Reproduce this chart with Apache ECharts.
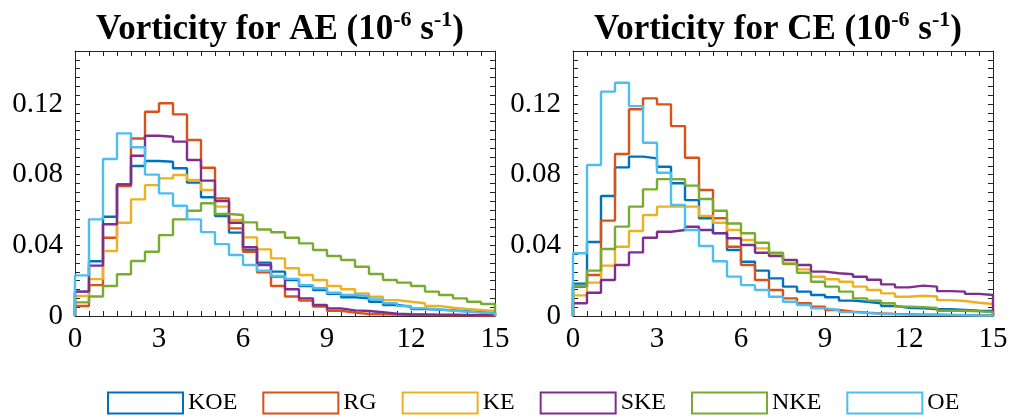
<!DOCTYPE html>
<html>
<head>
<meta charset="utf-8">
<title>Vorticity distributions</title>
<script src="https://cdn.jsdelivr.net/npm/echarts@6/dist/echarts.min.js"></script>
<style>
  html, body { margin: 0; padding: 0; background: #ffffff; }
  #chart { width: 1011px; height: 419px; }
</style>
</head>
<body>
<div id="chart"></div>
<script>
// Histogram bins: 30 bins of width 0.5 from 0 to 15 (10^-6 s^-1)
const BIN_WIDTH = 0.5;
const X_MAX = 15;
const Y_MAX = 0.15;

const seriesNames = ['KOE', 'RG', 'KE', 'SKE', 'NKE', 'OE'];
const seriesColors = ['#0072BD', '#D95319', '#EDB120', '#7E2F8E', '#77AC30', '#4DBEEE'];

// Anticyclonic eddies (AE): probability per bin
const aeKOE = [0.0138, 0.0310, 0.0562, 0.0745, 0.0849, 0.0877, 0.0873, 0.0836, 0.0755, 0.0672,
               0.0566, 0.0472, 0.0374, 0.0302, 0.0251, 0.0204, 0.0170, 0.0147, 0.0125, 0.0106,
               0.0100, 0.0081, 0.0062, 0.0053, 0.0040, 0.0036, 0.0032, 0.0027, 0.0022, 0.0018];
const aeRG  = [0.0057, 0.0175, 0.0443, 0.0736, 0.1005, 0.1156, 0.1204, 0.1141, 0.0996, 0.0839,
               0.0666, 0.0496, 0.0364, 0.0247, 0.0170, 0.0110, 0.0087, 0.0053, 0.0030, 0.0019,
               0.0011, 0.0009, 0.0008, 0.0007, 0.0006, 0.0005, 0.0004, 0.0004, 0.0003, 0.0003];
const aeKE  = [0.0113, 0.0209, 0.0368, 0.0528, 0.0660, 0.0741, 0.0779, 0.0798, 0.0770, 0.0713,
               0.0619, 0.0543, 0.0445, 0.0377, 0.0326, 0.0270, 0.0232, 0.0204, 0.0170, 0.0151,
               0.0128, 0.0109, 0.0090, 0.0081, 0.0072, 0.0057, 0.0047, 0.0040, 0.0034, 0.0028];
const aeSKE = [0.0138, 0.0285, 0.0519, 0.0745, 0.0907, 0.1020, 0.1015, 0.0987, 0.0883, 0.0766,
               0.0651, 0.0528, 0.0389, 0.0289, 0.0223, 0.0151, 0.0100, 0.0062, 0.0043, 0.0032,
               0.0028, 0.0021, 0.0013, 0.0010, 0.0009, 0.0008, 0.0007, 0.0006, 0.0005, 0.0005];
const aeNKE = [0.0077, 0.0110, 0.0170, 0.0236, 0.0311, 0.0364, 0.0458, 0.0547, 0.0596, 0.0638,
               0.0577, 0.0572, 0.0530, 0.0490, 0.0474, 0.0443, 0.0411, 0.0374, 0.0340, 0.0317,
               0.0279, 0.0238, 0.0204, 0.0189, 0.0170, 0.0138, 0.0119, 0.0100, 0.0081, 0.0068];
const aeOE  = [0.0230, 0.0547, 0.0889, 0.1034, 0.0955, 0.0800, 0.0694, 0.0624, 0.0547, 0.0475,
               0.0407, 0.0345, 0.0289, 0.0256, 0.0226, 0.0210, 0.0175, 0.0157, 0.0132, 0.0119,
               0.0113, 0.0094, 0.0072, 0.0057, 0.0043, 0.0038, 0.0030, 0.0025, 0.0019, 0.0015];

// Cyclonic eddies (CE): probability per bin
const ceKOE = [0.0183, 0.0419, 0.0679, 0.0841, 0.0902, 0.0892, 0.0845, 0.0751, 0.0656, 0.0553,
               0.0468, 0.0374, 0.0307, 0.0257, 0.0213, 0.0166, 0.0138, 0.0119, 0.0106, 0.0087,
               0.0081, 0.0072, 0.0057, 0.0047, 0.0043, 0.0040, 0.0038, 0.0034, 0.0030, 0.0028];
const ceRG  = [0.0165, 0.0232, 0.0540, 0.0917, 0.1170, 0.1232, 0.1198, 0.1075, 0.0896, 0.0713,
               0.0553, 0.0392, 0.0289, 0.0204, 0.0147, 0.0100, 0.0072, 0.0053, 0.0034, 0.0025,
               0.0019, 0.0015, 0.0012, 0.0010, 0.0008, 0.0007, 0.0006, 0.0005, 0.0004, 0.0004];
const ceKE  = [0.0117, 0.0189, 0.0285, 0.0392, 0.0481, 0.0572, 0.0619, 0.0619, 0.0619, 0.0566,
               0.0528, 0.0487, 0.0430, 0.0383, 0.0355, 0.0298, 0.0264, 0.0222, 0.0208, 0.0194,
               0.0166, 0.0147, 0.0128, 0.0109, 0.0115, 0.0110, 0.0090, 0.0085, 0.0075, 0.0068];
const ceSKE = [0.0072, 0.0132, 0.0204, 0.0289, 0.0360, 0.0443, 0.0477, 0.0487, 0.0505, 0.0487,
               0.0469, 0.0440, 0.0402, 0.0358, 0.0340, 0.0317, 0.0289, 0.0251, 0.0242, 0.0236,
               0.0222, 0.0205, 0.0179, 0.0162, 0.0172, 0.0166, 0.0141, 0.0138, 0.0125, 0.0119];
const ceNKE = [0.0170, 0.0257, 0.0379, 0.0506, 0.0619, 0.0717, 0.0775, 0.0774, 0.0738, 0.0662,
               0.0596, 0.0524, 0.0468, 0.0415, 0.0358, 0.0294, 0.0245, 0.0194, 0.0166, 0.0138,
               0.0100, 0.0087, 0.0072, 0.0053, 0.0050, 0.0045, 0.0030, 0.0030, 0.0026, 0.0022];
const ceOE  = [0.0355, 0.0855, 0.1270, 0.1320, 0.1188, 0.0981, 0.0811, 0.0628, 0.0487, 0.0396,
               0.0310, 0.0223, 0.0175, 0.0147, 0.0109, 0.0081, 0.0062, 0.0043, 0.0034, 0.0022,
               0.0017, 0.0013, 0.0010, 0.0008, 0.0007, 0.0006, 0.0005, 0.0004, 0.0003, 0.0003];

const panels = [
  { title: 'AE', data: [aeKOE, aeRG, aeKE, aeSKE, aeNKE, aeOE] },
  { title: 'CE', data: [ceKOE, ceRG, ceKE, ceSKE, ceNKE, ceOE] }
];

const FONT = '"Liberation Serif", "Times New Roman", serif';
const AXIS_COLOR = '#262626';

// Turn bin heights into a stairs outline (closed down to zero at both ends)
function stairs(values) {
  const pts = [[0, 0]];
  values.forEach((v, i) => pts.push([i * BIN_WIDTH, v]));
  pts.push([X_MAX, 0]);
  return pts;
}

function isMultiple(v, step) {
  const r = v / step;
  return Math.abs(r - Math.round(r)) < 1e-6;
}

const gridLefts = [75, 573];
const grids = gridLefts.map(l => ({ left: l, top: 51, width: 420, height: 265 }));

const xAxes = [];
const yAxes = [];
grids.forEach((g, gi) => {
  ['bottom', 'top'].forEach(pos => {
    xAxes.push({
      type: 'value', gridIndex: gi, position: pos,
      min: 0, max: X_MAX, interval: 0.5,
      axisLine: { show: true, onZero: false, lineStyle: { color: AXIS_COLOR, width: 1 } },
      axisTick: { show: true, inside: true, length: 5, lineStyle: { color: AXIS_COLOR, width: 1 } },
      splitLine: { show: false },
      axisLabel: pos === 'bottom' ? {
        show: true, color: '#000', fontFamily: FONT, fontSize: 29, margin: 9,
        formatter: v => isMultiple(v, 3) ? String(Math.round(v)) : ''
      } : { show: false }
    });
  });
  ['left', 'right'].forEach(pos => {
    yAxes.push({
      type: 'value', gridIndex: gi, position: pos,
      min: 0, max: Y_MAX, interval: 0.005,
      axisLine: { show: true, onZero: false, lineStyle: { color: AXIS_COLOR, width: 1 } },
      axisTick: { show: true, inside: true, length: 5, lineStyle: { color: AXIS_COLOR, width: 1 } },
      splitLine: { show: false },
      axisLabel: pos === 'left' ? {
        show: true, color: '#000', fontFamily: FONT, fontSize: 29, margin: 12,
        formatter: v => (v > 0.145 || !isMultiple(v, 0.04)) ? '' : String(+v.toFixed(2))
      } : { show: false }
    });
  });
});

const series = [];
panels.forEach((p, pi) => {
  p.data.forEach((vals, si) => {
    series.push({
      name: seriesNames[si],
      type: 'line',
      xAxisIndex: pi * 2,
      yAxisIndex: pi * 2,
      step: 'end',
      data: stairs(vals),
      showSymbol: false,
      symbol: 'none',
      clip: true,
      lineStyle: { color: seriesColors[si], width: 2.4 },
      itemStyle: { color: seriesColors[si] },
      emphasis: { disabled: true }
    });
  });
});

const titles = panels.map((p, pi) => ({
  text: '{b|Vorticity for ' + p.title + ' (10}{s|-6}{b| s}{s|-1}{b|)}',
  left: gridLefts[pi] + 200,
  textAlign: 'center',
  top: 4,
  textStyle: {
    rich: {
      b: { fontFamily: FONT, fontWeight: 'bold', fontSize: 35, color: '#000', lineHeight: 42 },
      s: { fontFamily: FONT, fontWeight: 'bold', fontSize: 22, color: '#000', lineHeight: 42, verticalAlign: 'top' }
    }
  }
}));

const option = {
  animation: false,
  backgroundColor: '#ffffff',
  title: titles,
  grid: grids,
  xAxis: xAxes,
  yAxis: yAxes,
  legend: {
    left: 102,
    top: 386,
    icon: 'rect',
    itemWidth: 75,
    itemHeight: 21,
    itemGap: 25,
    textStyle: { fontFamily: FONT, fontSize: 24, color: '#000' },
    data: seriesNames.map((n, i) => ({
      name: n,
      itemStyle: { color: 'rgba(255,255,255,0)', borderColor: seriesColors[i], borderWidth: 2 }
    }))
  },
  series: series
};

const chart = echarts.init(document.getElementById('chart'), null, { renderer: 'canvas' });
chart.setOption(option);
</script>
</body>
</html>
